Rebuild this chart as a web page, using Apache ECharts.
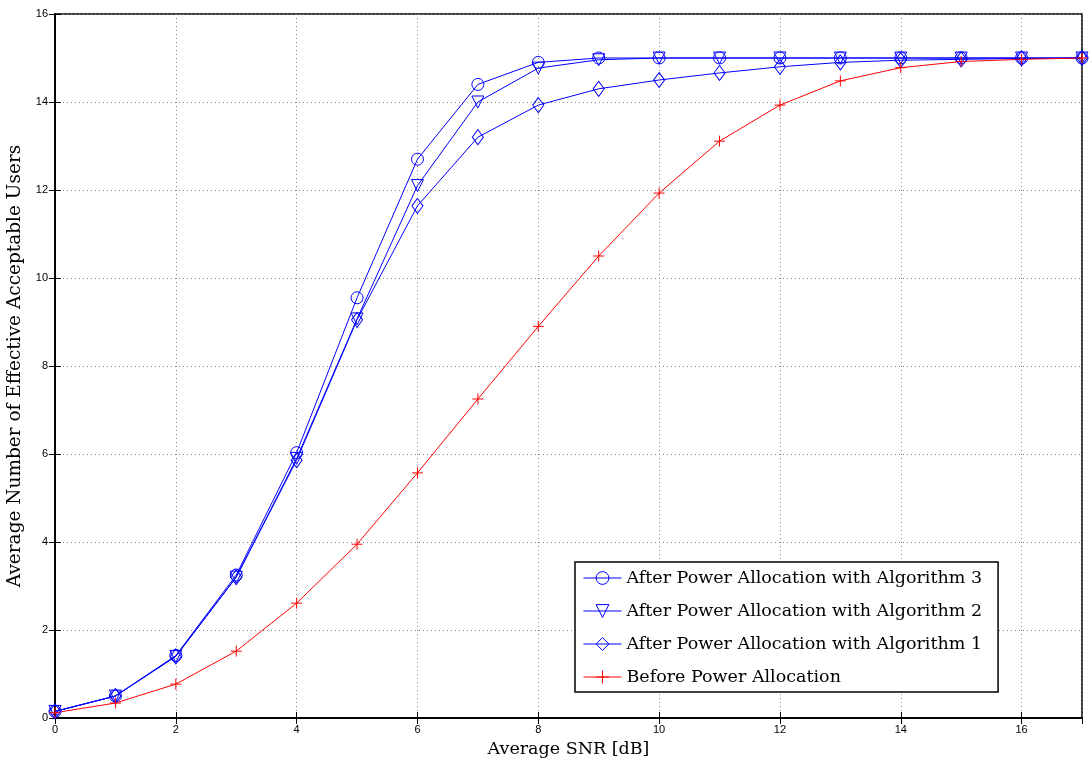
<!DOCTYPE html>
<html><head><meta charset="utf-8">
<script src="https://cdn.jsdelivr.net/npm/echarts@6/dist/echarts.min.js"></script>
<style>html,body{margin:0;padding:0;background:#fff}#c{width:1089px;height:761px}</style>
</head><body><div id="c"></div>
<script>
const snr = [0,1,2,3,4,5,6,7,8,9,10,11,12,13,14,15,16,17];
const alg3 = [0.15,0.5,1.42,3.25,6.03,9.55,12.7,14.4,14.9,15.0,15.0,15.0,15.0,15.0,15.0,15.0,15.0,15.0];
const alg2 = [0.15,0.5,1.4,3.2,5.9,9.07,12.1,14.0,14.77,14.96,15.0,15.0,15.0,15.0,15.0,15.0,15.0,15.0];
const alg1 = [0.15,0.5,1.4,3.2,5.86,9.05,11.64,13.2,13.93,14.3,14.5,14.66,14.8,14.9,14.95,14.97,14.99,15.0];
const before = [0.12,0.34,0.77,1.52,2.61,3.95,5.57,7.25,8.9,10.5,11.93,13.11,13.93,14.48,14.78,14.92,14.97,15.0];
const names = ['After Power Allocation with Algorithm 3','After Power Allocation with Algorithm 2','After Power Allocation with Algorithm 1','Before Power Allocation'];

const pair = a => snr.map((x,i)=>[x,a[i]]);
const chart = echarts.init(document.getElementById('c'));
const tickFont = {fontFamily:'Liberation Sans, Arial, sans-serif', fontSize:11, color:'#000'};
const serif = 'DejaVu Serif, serif';
const mk = (name, data, color, symbol, size) => ({
  name, type:'line', data:pair(data), symbol, symbolSize:size, showSymbol:true,
  lineStyle:{color, width:1}, itemStyle:{color:'rgba(0,0,0,0)', borderColor:color, borderWidth:1},
  emphasis:{disabled:true}, animation:false, z: 3
});
chart.setOption({
  animation:false,
  grid:{left:55, right:7, top:14, bottom:43, show:true, borderColor:'#000', borderWidth:1.5,
        containLabel:false, outerBoundsMode:'none'},
  xAxis:[{type:'value', min:0, max:17, interval:2,
    name:'Average SNR [dB]', nameLocation:'middle', nameGap:22,
    nameTextStyle:{fontFamily:serif, fontSize:17.5, color:'#000'},
    axisLine:{show:true, lineStyle:{color:'#000', width:1.5}},
    axisTick:{show:true, inside:true, length:6, lineStyle:{color:'#000'}},
    axisLabel:{...tickFont, margin:6, showMaxLabel:false},
    splitLine:{show:true, lineStyle:{color:'#888', type:[1,3], width:1}}},
   {type:'value', position:'top', min:0, max:17, interval:2,
    axisLine:{show:true, lineStyle:{color:'#000', width:1.5}},
    axisTick:{show:true, inside:true, length:6, lineStyle:{color:'#000'}},
    axisLabel:{show:false}, splitLine:{show:false}}],
  yAxis:[{type:'value', min:0, max:16, interval:2,
    name:'Average Number of Effective Acceptable Users', nameLocation:'middle', nameGap:26,
    nameTextStyle:{fontFamily:serif, fontSize:18.5, color:'#000'},
    axisLine:{show:true, lineStyle:{color:'#000', width:1.5}},
    axisTick:{show:true, inside:true, length:6, lineStyle:{color:'#000'}},
    axisLabel:{...tickFont, margin:7},
    splitLine:{show:true, lineStyle:{color:'#888', type:[1,3], width:1}}},
   {type:'value', position:'right', min:0, max:16, interval:2,
    axisLine:{show:true, lineStyle:{color:'#000', width:1.5}},
    axisTick:{show:true, inside:true, length:6, lineStyle:{color:'#000'}},
    axisLabel:{show:false}, splitLine:{show:false}}],
  legend:{orient:'vertical', left:575, top:562, width:426,
    backgroundColor:'#fff', borderColor:'#000', borderWidth:1.5,
    padding:[6,16,5,8], itemGap:13, itemWidth:38, itemHeight:16,
    itemStyle:{borderWidth:1}, lineStyle:{width:1},
    textStyle:{fontFamily:serif, fontSize:17.5, color:'#000', lineHeight:20},
    data:names},
  series:[
    mk(names[0], alg3, '#0000ff', 'circle', 12),
    mk(names[1], alg2, '#0000ff', 'path://M0,0L10,0L5,10Z', 12),
    mk(names[2], alg1, '#0000ff', 'diamond', [11,15]),
    mk(names[3], before, '#ff0000', 'path://M5,0L5,10M0,5L10,5', 11)
  ]
});
</script></body></html>
